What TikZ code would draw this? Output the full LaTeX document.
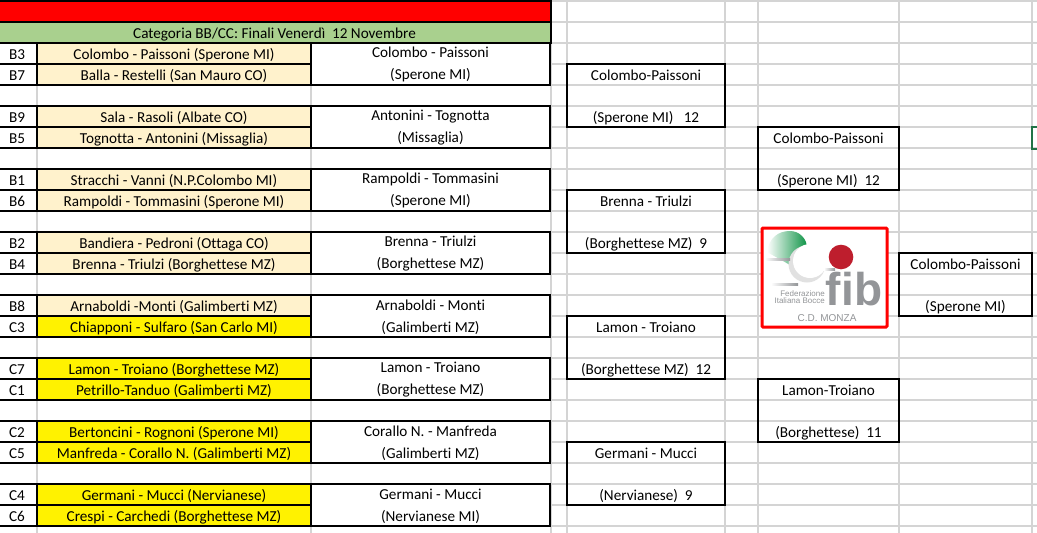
\documentclass[tikz,border=0pt]{standalone}
\usepackage{fontspec}
\setmainfont{Carlito}[Ligatures=NoCommon]
\newfontfamily\logofont{Liberation Sans}
\usetikzlibrary{positioning}
\definecolor{headred}{HTML}{FF0000}
\definecolor{headgreen}{HTML}{A9D08E}
\definecolor{cream}{HTML}{FFF2CC}
\definecolor{gridgray}{HTML}{D4D4D4}
\definecolor{selgreen}{HTML}{217346}
\definecolor{logogreen}{HTML}{0F9447}
\definecolor{logored}{HTML}{BE1E2D}
\definecolor{logogray}{HTML}{939598}
\newcommand{\mergetop}{\rule{0pt}{12.3pt}}
\newcommand{\roundtop}{\rule{0pt}{14.3pt}}
\tikzset{
    sheetcell/.style={draw=black, line width=2pt, anchor=north west, inner sep=0pt, outer sep=0pt, font=\fontsize{15.2}{22}\selectfont},
    headcell/.style={sheetcell, text height=12pt, text depth=1pt, minimum width=553pt, minimum height=21pt},
    seedcell/.style={sheetcell, text height=12pt, text depth=1pt, fill=white, minimum width=40pt, minimum height=21pt},
    teamcell/.style={sheetcell, text height=12pt, text depth=1pt, minimum width=274pt, minimum height=21pt},
    mergecell/.style={sheetcell, fill=white, align=center, minimum width=239pt, minimum height=42pt},
    roundbox/.style={sheetcell, align=center, minimum height=63pt},
}
\begin{document}
\begin{tikzpicture}[x=1pt, y=-1pt]
    \useasboundingbox (0, 0) rectangle (1037, 533);

    % sheet grid
    \foreach \gy in {1, 22, ..., 526}
        \draw[gridgray, line width=1.2pt] (0, \gy) -- (1037, \gy);
    \foreach \gx in {37, 311, 551, 567, 725, 758, 899, 1032}
        \draw[gridgray, line width=1.2pt] (\gx, 0) -- (\gx, 533);

    \node[headcell, fill=headred] (title) at (-2, 1) {};
    \node[headcell, fill=headgreen] (category) at (-2, 22) {Categoria BB/CC: Finali Venerdì~~12 Novembre};

    % first round
    \node[seedcell] (b3) at (-3, 43) {B3};
    \node[teamcell, fill=cream] (b3team) at (37, 43) {Colombo - Paissoni (Sperone MI)};
    \node[seedcell] (b7) at (-3, 64) {B7};
    \node[teamcell, fill=cream] (b7team) at (37, 64) {Balla - Restelli (San Mauro CO)};
    \node[mergecell] (win1) at (311, 43) {\mergetop Colombo - Paissoni\\(Sperone MI)};

    \node[seedcell] (b9) at (-3, 106) {B9};
    \node[teamcell, fill=cream] (b9team) at (37, 106) {Sala - Rasoli (Albate CO)};
    \node[seedcell] (b5) at (-3, 127) {B5};
    \node[teamcell, fill=cream] (b5team) at (37, 127) {Tognotta - Antonini (Missaglia)};
    \node[mergecell] (win2) at (311, 106) {\mergetop Antonini - Tognotta\\(Missaglia)};

    \node[seedcell] (b1) at (-3, 169) {B1};
    \node[teamcell, fill=cream] (b1team) at (37, 169) {Stracchi - Vanni (N.P.Colombo MI)};
    \node[seedcell] (b6) at (-3, 190) {B6};
    \node[teamcell, fill=cream] (b6team) at (37, 190) {Rampoldi - Tommasini (Sperone MI)};
    \node[mergecell] (win3) at (311, 169) {\mergetop Rampoldi - Tommasini\\(Sperone MI)};

    \node[seedcell] (b2) at (-3, 232) {B2};
    \node[teamcell, fill=cream] (b2team) at (37, 232) {Bandiera - Pedroni (Ottaga CO)};
    \node[seedcell] (b4) at (-3, 253) {B4};
    \node[teamcell, fill=cream] (b4team) at (37, 253) {Brenna - Triulzi (Borghettese MZ)};
    \node[mergecell] (win4) at (311, 232) {\mergetop Brenna - Triulzi\\(Borghettese MZ)};

    \node[seedcell] (b8) at (-3, 295) {B8};
    \node[teamcell, fill=cream] (b8team) at (37, 295) {Arnaboldi -Monti (Galimberti MZ)};
    \node[seedcell] (c3) at (-3, 316) {C3};
    \node[teamcell, fill=yellow] (c3team) at (37, 316) {Chiapponi - Sulfaro (San Carlo MI)};
    \node[mergecell] (win5) at (311, 295) {\mergetop Arnaboldi - Monti\\(Galimberti MZ)};

    \node[seedcell] (c7) at (-3, 358) {C7};
    \node[teamcell, fill=yellow] (c7team) at (37, 358) {Lamon - Troiano (Borghettese MZ)};
    \node[seedcell] (c1) at (-3, 379) {C1};
    \node[teamcell, fill=yellow] (c1team) at (37, 379) {Petrillo-Tanduo (Galimberti MZ)};
    \node[mergecell] (win6) at (311, 358) {\mergetop Lamon - Troiano\\(Borghettese MZ)};

    \node[seedcell] (c2) at (-3, 421) {C2};
    \node[teamcell, fill=yellow] (c2team) at (37, 421) {Bertoncini - Rognoni (Sperone MI)};
    \node[seedcell] (c5) at (-3, 442) {C5};
    \node[teamcell, fill=yellow] (c5team) at (37, 442) {Manfreda - Corallo N. (Galimberti MZ)};
    \node[mergecell] (win7) at (311, 421) {\mergetop Corallo N. - Manfreda\\(Galimberti MZ)};

    \node[seedcell] (c4) at (-3, 484) {C4};
    \node[teamcell, fill=yellow] (c4team) at (37, 484) {Germani - Mucci (Nervianese)};
    \node[seedcell] (c6) at (-3, 505) {C6};
    \node[teamcell, fill=yellow] (c6team) at (37, 505) {Crespi - Carchedi (Borghettese MZ)};
    \node[mergecell] (win8) at (311, 484) {\mergetop Germani - Mucci\\(Nervianese MI)};

    % next rounds
    \node[roundbox, minimum width=158pt] (semi1) at (567, 64) {\roundtop Colombo-Paissoni\\[20pt](Sperone MI)~~~12};
    \node[roundbox, minimum width=158pt] (semi2) at (567, 190) {\roundtop Brenna - Triulzi\\[20pt](Borghettese MZ)~~9};
    \node[roundbox, minimum width=158pt] (semi3) at (567, 316) {\roundtop Lamon - Troiano\\[20pt](Borghettese MZ)~~12};
    \node[roundbox, minimum width=158pt] (semi4) at (567, 442) {\roundtop Germani - Mucci\\[20pt](Nervianese)~~9};
    \node[roundbox, minimum width=141pt] (final1) at (758, 127) {\roundtop Colombo-Paissoni\\[20pt](Sperone MI)~~12};
    \node[roundbox, minimum width=141pt] (final2) at (758, 379) {\roundtop Lamon-Troiano\\[20pt](Borghettese)~~11};
    \node[roundbox, minimum width=133pt] (champ) at (899, 253) {\roundtop Colombo-Paissoni\\[20pt](Sperone MI)};

    % selected cell
    \draw[selgreen, line width=2pt] (1037, 127) -- (1032, 127) -- (1032, 149) -- (1037, 149);

    % logo
    \draw[headred, fill=white, line width=3pt, rounded corners=1pt] (762, 228) rectangle (887, 327);
    \shade[left color=white, middle color=logogreen, right color=logogreen]
        (767, 252) .. controls (769, 238) and (778, 231) .. (790, 231) arc (-90:90:17) -- cycle;
    \fill[gridgray!70] (807, 264) circle (18.5);
    \fill[white] (810, 261) circle (17);
    \shade[left color=white, right color=logogray] (765, 258) rectangle (790, 260);
    \shade[left color=white, right color=logogray] (771, 283) rectangle (798, 285);
    \shade[left color=white, right color=logogray] (824, 268) rectangle (835, 270);
    \fill[logored] (841, 257) circle (12.3);
    \node[text=logogray, inner sep=0pt, font=\logofont\bfseries\fontsize{46}{46}\selectfont] (fib) at (854, 289) {fib};
    \node[text=logogray, inner sep=0pt, anchor=east, align=right, font=\logofont\fontsize{8}{7.5}\selectfont] (fibname) at (825, 297) {Federazione\\Italiana Bocce};
    \node[text=logogray, inner sep=0pt, font=\logofont\fontsize{10}{10}\selectfont] (monza) at (827, 318) {C.D. MONZA};
\end{tikzpicture}
\end{document}
